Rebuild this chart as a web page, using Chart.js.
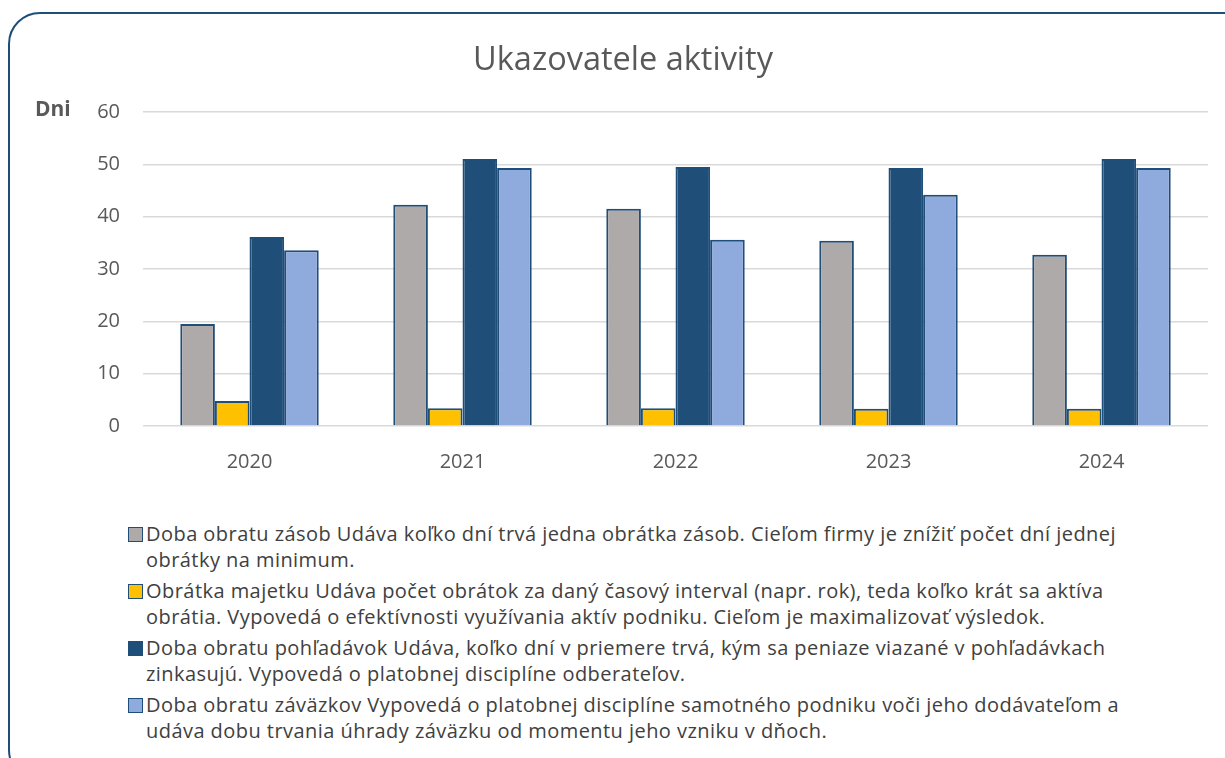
<!DOCTYPE html>
<html>
<head>
<meta charset="utf-8">
<script src="https://cdn.jsdelivr.net/npm/chart.js@4.4.1/dist/chart.umd.min.js"></script>
<style>
  html, body { margin: 0; padding: 0; background: #fff; }
  body { width: 1225px; height: 758px; overflow: hidden; position: relative; font-family: "Open Sans", sans-serif; }
  #frame {
    position: absolute; left: 8px; top: 12px; width: 1250px; height: 770px;
    border: 2.5px solid #1f4e79; border-radius: 32px; box-sizing: border-box;
  }
  #chartWrap { position: absolute; left: 0; top: 0; width: 1225px; height: 490px; }
  #legend { position: absolute; left: 128px; top: 521px; width: 1090px; color: #404040; font-size: 20px; letter-spacing: 0.45px; line-height: 26px; }
  .item { display: flex; align-items: flex-start; margin-bottom: 5px; white-space: nowrap; }
  .box { width: 13px; height: 13px; border: 1.5px solid #1f4e79; margin: 6px 3px 0 0; flex: none; }
</style>
</head>
<body>
<div id="frame"></div>
<div id="chartWrap"><canvas id="chart"></canvas></div>
<div id="legend"></div>
<script>
// categories and series
const years = ["2020", "2021", "2022", "2023", "2024"];
const dobaZasob = [19.5, 42.3, 41.5, 35.4, 32.7];
const obratkaMajetku = [4.8, 3.4, 3.4, 3.3, 3.3];
const dobaPohladavok = [36.1, 51.0, 49.5, 49.3, 51.0];
const dobaZavazkov = [33.6, 49.3, 35.6, 44.2, 49.3];

// legend texts, split where the reference wraps
const seriesLabels = [
    ["Doba obratu zásob Udáva koľko dní trvá jedna obrátka zásob. Cieľom firmy je znížiť počet dní jednej", "obrátky na minimum."],
    ["Obrátka majetku Udáva počet obrátok za daný časový interval (napr. rok), teda koľko krát sa aktíva", "obrátia. Vypovedá o efektívnosti využívania aktív podniku. Cieľom je maximalizovať výsledok."],
    ["Doba obratu pohľadávok Udáva, koľko dní v priemere trvá, kým sa peniaze viazané v pohľadávkach", "zinkasujú. Vypovedá o platobnej disciplíne odberateľov."],
    ["Doba obratu záväzkov Vypovedá o platobnej disciplíne samotného podniku voči jeho dodávateľom a", "udáva dobu trvania úhrady záväzku od momentu jeho vzniku v dňoch."]
];
const colors = ["#aeaaaa", "#ffc000", "#1f4e79", "#8faadc"];

const datasets = [dobaZasob, obratkaMajetku, dobaPohladavok, dobaZavazkov].map((data, i) => ({
    label: seriesLabels[i].join(" "),
    data,
    backgroundColor: colors[i],
    borderColor: "#1f4e79",
    borderWidth: 2,
    categoryPercentage: 0.65,
    barPercentage: 1.0
}));

const fontFamily = "'Open Sans', sans-serif";

// y axis unit label, drawn horizontally above the ticks
const unitLabel = {
    id: "unitLabel",
    afterDraw(chart) {
        const { ctx, chartArea } = chart;
        ctx.save();
        ctx.font = "bold 21px " + fontFamily;
        ctx.fillStyle = "#595959";
        ctx.textAlign = "left";
        ctx.textBaseline = "middle";
        ctx.fillText("Dni", 35, chartArea.top - 2);
        ctx.restore();
    }
};

const chart = new Chart(document.getElementById("chart"), {
    type: "bar",
    data: { labels: years, datasets },
    options: {
        responsive: true,
        maintainAspectRatio: false,
        animation: false,
        layout: { padding: { left: 38, right: 17, top: 0, bottom: 14 } },
        plugins: {
            legend: { display: false },
            tooltip: { enabled: false },
            title: {
                display: true,
                text: "Ukazovatele aktivity",
                color: "#595959",
                font: { family: fontFamily, size: 32.5, weight: "normal" },
                padding: { top: 41, bottom: 32 }
            }
        },
        scales: {
            x: {
                grid: { display: false },
                border: { display: false },
                ticks: { color: "#595959", font: { family: fontFamily, size: 20 }, padding: 16 },
                afterFit(scale) { scale.height = 50; }
            },
            y: {
                min: 0, max: 60,
                ticks: { stepSize: 10, color: "#595959", font: { family: fontFamily, size: 20 }, padding: 23 },
                grid: { color: "#d9d9d9", lineWidth: 1.5, drawTicks: false },
                border: { display: false },
                afterFit(scale) { scale.width = 105; }
            }
        }
    },
    plugins: [unitLabel]
});

// html legend built from the datasets
const legendEl = document.getElementById("legend");
chart.data.datasets.forEach((ds, i) => {
    const item = document.createElement("div");
    item.className = "item";
    const box = document.createElement("span");
    box.className = "box";
    box.style.background = ds.backgroundColor;
    const txt = document.createElement("span");
    txt.innerHTML = seriesLabels[i].join("<br>");
    item.appendChild(box);
    item.appendChild(txt);
    legendEl.appendChild(item);
});
</script>
</body>
</html>
